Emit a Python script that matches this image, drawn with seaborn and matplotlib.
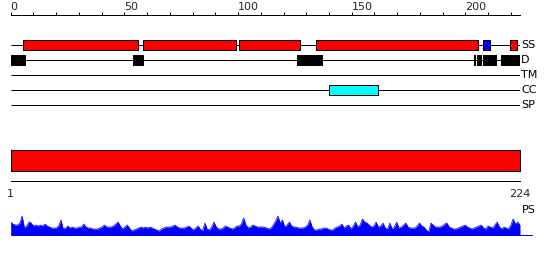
import numpy as np
import pandas as pd
import matplotlib
matplotlib.use("Agg")
import matplotlib.pyplot as plt
from matplotlib import transforms
import seaborn as sns

# ---------------- data ----------------
seq_len = 224
track_names = ["SS", "D", "TM", "CC", "SP"]

ss_start = [5.6, 58.1, 100.2, 134.4, 207.7, 219.6]
ss_end = [56.0, 99.3, 127.4, 205.6, 210.8, 222.7]
ss_type = ["H", "H", "H", "H", "E", "H"]

dis_start = [0.0, 53.9, 126.1, 203.8, 205.3, 207.9, 215.7]
dis_end = [6.4, 58.1, 137.0, 204.4, 206.8, 213.4, 224.0]

tm_start = []
tm_end = []

cc_start = [140.2]
cc_end = [161.4]

sp_start = []
sp_end = []

top_major_ticks = [0, 50, 100, 150, 200]
top_minor_ticks = list(range(0, 221, 10))
bottom_ticks = [1, 224]

profile = [
    13, 11, 10, 10, 12, 19, 7, 9, 13, 12, 9, 10, 9, 10, 9, 11, 9, 8, 7, 7,
    7, 9, 15, 6, 7, 9, 7, 8, 7, 7, 8, 8, 11, 8, 7, 7, 6, 6, 6, 7,
    8, 10, 8, 8, 8, 9, 11, 13, 9, 6, 8, 10, 7, 4, 5, 6, 7, 8, 7, 8,
    7, 8, 7, 6, 5, 4, 6, 7, 8, 8, 8, 9, 10, 8, 7, 7, 7, 8, 9, 7,
    5, 7, 9, 6, 4, 12, 6, 5, 8, 13, 8, 6, 6, 7, 9, 8, 7, 6, 7, 9,
    9, 11, 17, 10, 7, 8, 10, 9, 8, 8, 8, 8, 7, 6, 7, 10, 14, 19, 12, 15,
    8, 10, 13, 9, 8, 8, 7, 7, 7, 8, 10, 15, 8, 5, 5, 6, 6, 7, 7, 6,
    5, 5, 7, 8, 9, 11, 7, 9, 10, 6, 9, 13, 8, 10, 16, 13, 12, 10, 8, 9,
    13, 8, 9, 12, 7, 6, 12, 6, 8, 13, 7, 8, 10, 12, 8, 7, 7, 7, 9, 12,
    9, 8, 5, 3, 12, 10, 8, 8, 8, 9, 11, 12, 8, 7, 6, 6, 7, 8, 9, 10,
    8, 7, 6, 7, 8, 9, 10, 7, 6, 9, 8, 7, 10, 13, 8, 6, 8, 7, 6, 10,
    16, 11, 13, 10,
]

# ---------------- style ----------------
sns.set_style("white")
plt.rcParams["font.family"] = ["DejaVu Sans"]
FS = 8
LW = 0.72  # 1 px at 100 dpi
RED, BLUE, CYAN, BLACK = "#ff0000", "#0000ff", "#00ffff", "#000000"

W, H = 550, 260
fig = plt.figure(figsize=(W / 100, H / 100), dpi=100)


def px_axes(x0, y0, x1, y1):
    return fig.add_axes([x0 / W, 1 - y1 / H, (x1 - x0) / W, (y1 - y0) / H])


XL, XR = 10.7, 520.0

# ---------------- top tracks ----------------
ax = px_axes(XL, 15, XR, 110)
ax.set_xlim(0, seq_len)
ax.set_ylim(4.333, -2)
for s in ["left", "right", "bottom"]:
    ax.spines[s].set_visible(False)
ax.spines["top"].set_linewidth(LW)
ax.spines["top"].set_color(BLACK)
ax.set_yticks([])
ax.set_xticks(top_major_ticks)
ax.set_xticks(top_minor_ticks, minor=True)
ax.tick_params(axis="x", which="both", top=True, bottom=False, labeltop=True,
               labelbottom=False, direction="out", length=2.2, width=LW,
               pad=0, labelsize=FS, color=BLACK)
for lbl in ax.get_xticklabels():
    lbl.set_horizontalalignment("left")

segments = {
    "SS": (ss_start, ss_end, [RED if t == "H" else BLUE for t in ss_type]),
    "D": (dis_start, dis_end, [BLACK] * len(dis_start)),
    "TM": (tm_start, tm_end, [BLACK] * len(tm_start)),
    "CC": (cc_start, cc_end, [CYAN] * len(cc_start)),
    "SP": (sp_start, sp_end, [BLACK] * len(sp_start)),
}
lab_tr = transforms.offset_copy(ax.transData, fig=fig, x=1, y=0, units="dots")
for i, name in enumerate(track_names):
    ax.hlines(i, 0, seq_len, color=BLACK, lw=LW, zorder=1)
    st, en, cols = segments[name]
    if st:
        ax.broken_barh([(s, e - s) for s, e in zip(st, en)], (i - 1 / 3, 2 / 3),
                       facecolors=cols, edgecolor=BLACK, linewidth=LW, zorder=2)
    ax.text(seq_len, i, name, ha="left", va="center", fontsize=FS,
            transform=lab_tr, color=BLACK)

# ---------------- bottom bar ----------------
axb = px_axes(XL, 150, XR, 170.7)
axb.set_xlim(1, seq_len)
axb.set_ylim(0, 1)
axb.broken_barh([(1, seq_len - 1)], (0, 1), facecolors=RED, edgecolor=BLACK,
                linewidth=LW, clip_on=False)
axb.axis("off")

# ---------------- ruler ----------------
axr = px_axes(XL, 176, XR, 180.7)
axr.set_xlim(1, seq_len)
for s in ["left", "right", "top"]:
    axr.spines[s].set_visible(False)
axr.spines["bottom"].set_linewidth(LW)
axr.spines["bottom"].set_color(BLACK)
axr.set_yticks([])
axr.set_xticks(bottom_ticks)
axr.tick_params(axis="x", direction="out", length=3.0, width=LW, pad=3.2,
                labelsize=FS, color=BLACK)
axr.patch.set_visible(False)

# ---------------- PS profile ----------------
axp = px_axes(XL, 210, XR, 235)
pos = np.arange(1, seq_len + 1)
df = pd.DataFrame({"pos": pos, "ps": profile})
axp.set_xlim(1, seq_len)
axp.set_ylim(0, 25)
axp.fill_between(df["pos"], 0, df["ps"], color=BLUE, linewidth=0)
sns.lineplot(data=df, x="pos", y="ps", ax=axp, color=BLUE, linewidth=0.5)
axp.axhline(0, xmin=0, xmax=(532 - XL) / (XR - XL), color=BLUE, lw=LW,
            clip_on=False)
axp.axis("off")
ps_tr = transforms.offset_copy(axp.transData, fig=fig, x=1.5, y=0, units="dots")
axp.text(seq_len, 25, "PS", ha="left", va="center", fontsize=FS,
         transform=ps_tr, color=BLACK)

fig.savefig("out.png", dpi=100)
